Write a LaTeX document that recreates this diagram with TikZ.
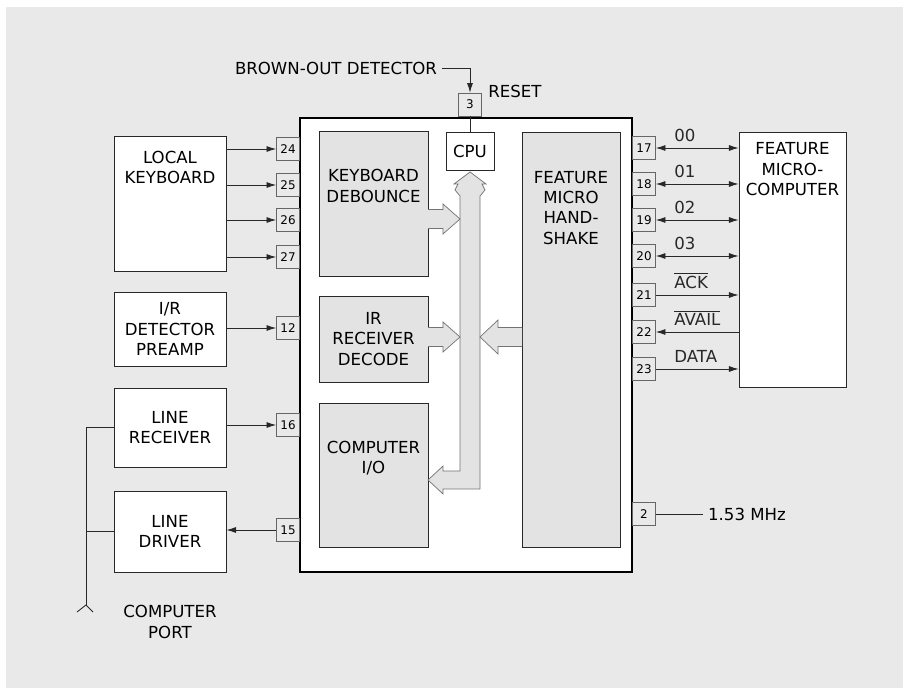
\documentclass[tikz,border=0pt]{standalone}
\usepackage{fontspec}
\setmainfont{DejaVu Sans}
\usetikzlibrary{arrows.meta,calc}

\definecolor{paper}{RGB}{233,233,233}
\definecolor{panel}{RGB}{227,227,227}
\definecolor{ink}{RGB}{40,40,40}

\begin{document}
\begin{tikzpicture}[
  font=\fontsize{11.8}{14.4}\selectfont,
  >={Latex[length=2.4mm,width=1.5mm]},
  box/.style={draw=ink,line width=.6pt,fill=white,align=center,inner sep=0pt},
  sub/.style={box,fill=panel},
  pin/.style={draw=black!60,line width=.5pt,fill=paper,minimum width=.575cm,minimum height=.575cm,inner sep=0pt,font=\fontsize{8.5}{10}\selectfont},
  wire/.style={ink,line width=.6pt},
  sig/.style={wire,->},
  tag/.style={anchor=south west,inner sep=.5pt,pos=.21,yshift=4pt},
  bus/.style={fill=panel,draw=black!55,line width=.5pt}
]
\useasboundingbox (0,0) rectangle (22.575,17.2);
\fill[white] (0,0) rectangle (22.575,17.2);
\fill[paper] (.15,0) rectangle (22.575,17.025);

% the controller chip and its inner blocks
\node[box,draw=black,line width=1.3pt,minimum width=8.3cm,minimum height=11.35cm] (chip) at (11.65,8.575) {};
\node[sub,minimum width=2.725cm,minimum height=3.625cm] (kd) at (9.3375,12.1125) {};
\node[align=center] (kdt) at ($(kd)+(0,.44)$) {KEYBOARD\\DEBOUNCE};
\node[sub,minimum width=2.725cm,minimum height=2.15cm] (ird) at (9.3375,8.725) {IR\\RECEIVER\\DECODE};
\node[sub,minimum width=2.725cm,minimum height=3.6cm] (cio) at (9.3375,5.325) {};
\node[align=center] (ciot) at ($(cio)+(0,.425)$) {COMPUTER\\I/O};
\node[sub,minimum width=2.45cm,minimum height=10.375cm] (fh) at (14.275,8.7125) {};
\node[align=center] (fht) at ($(fh)+(0,3.29)$) {FEATURE\\MICRO\\HAND-\\SHAKE};
\node[box,minimum width=1.2cm,minimum height=.95cm] (cpu) at (11.75,13.425) {CPU};

% internal bus and the wide arrows
\draw[bus] (11.75,12.9) -- (12.15,12.6) -- (12.05,12.6) -- (12.125,12.45) -- (12,12.3) -- (12,4.975)
  -- (11.075,4.975) -- (11.075,4.85) -- (10.7,5.2) -- (11.075,5.55) -- (11.075,5.425) -- (11.5,5.425)
  -- (11.5,12.3) -- (11.375,12.45) -- (11.45,12.6) -- (11.35,12.6) -- cycle;
\draw[bus] (10.7,11.9625) -- (11.075,11.9625) -- (11.075,12.1) -- (11.5,11.725) -- (11.075,11.35) -- (11.075,11.4875) -- (10.7,11.4875);
\draw[bus] (10.7,9.0125) -- (11.075,9.0125) -- (11.075,9.15) -- (11.5,8.775) -- (11.075,8.4) -- (11.075,8.5375) -- (10.7,8.5375);
\draw[bus] (13.05,9.0125) -- (12.45,9.0125) -- (12.45,9.2) -- (12,8.775) -- (12.45,8.35) -- (12.45,8.5375) -- (13.05,8.5375);

% outside blocks
\node[box,minimum width=2.8cm,minimum height=3.375cm] (lk) at (4.25,12.1125) {};
\node[align=center] (lkt) at ($(lk)+(0,.9)$) {LOCAL\\KEYBOARD};
\node[box,minimum width=2.8cm,minimum height=1.85cm] (irp) at (4.25,8.975) {I/R\\DETECTOR\\PREAMP};
\node[box,minimum width=2.8cm,minimum height=1.975cm] (lr) at (4.25,6.5125) {LINE\\RECEIVER};
\node[box,minimum width=2.8cm,minimum height=2.025cm] (ld) at (4.25,3.9125) {LINE\\DRIVER};
\node[box,minimum width=2.675cm,minimum height=6.375cm] (fm) at (19.8125,10.7125) {};
\node[align=center] (fmt) at ($(fm)+(0,2.26)$) {FEATURE\\MICRO-\\COMPUTER};

% pins
\foreach \n/\y in {24/13.475,25/12.575,26/11.7,27/10.775,12/9.0,16/6.575,15/3.95}
  \node[pin] (p\n) at (7.2,\y) {\n};
\foreach \n/\y in {17/13.5,18/12.6,19/11.7,20/10.8,21/9.825,22/8.9,23/7.975,2/4.35}
  \node[pin] (p\n) at (16.1,\y) {\n};
\node[pin] (p3) at (11.75,14.5875) {3};

% left side
\foreach \n in {24,25,26,27}
  \draw[sig] (lk.east|-p\n) -- (p\n);
\draw[sig] (irp.east|-p12) -- (p12);
\draw[sig] (lr.east|-p16) -- (p16);
\draw[sig] (p15) -- (ld.east|-p15);

\coordinate (port) at (2.15,2.075);
\draw[wire] (lr.west) -| (port);
\draw[wire] (ld.west) -- (ld.west-|port);
\draw[wire] (1.925,1.9) -- (port) -- (2.325,1.9);
\node[align=center] (cpt) at (4.25,1.65) {COMPUTER\\PORT};

% top
\node (bod) at (8.4,15.5) {BROWN-OUT DETECTOR};
\draw[sig] (bod) -| (p3);
\node (rst) at (12.875,14.925) {RESET};
\draw[wire] (p3) -- (cpu);

% right side
\draw[sig,<->] (p17) -- node[tag] {00} (fm.west|-p17);
\draw[sig,<->] (p18) -- node[tag] {01} (fm.west|-p18);
\draw[sig,<->] (p19) -- node[tag] {02} (fm.west|-p19);
\draw[sig,<->] (p20) -- node[tag] {03} (fm.west|-p20);
\draw[sig] (p21) -- node[tag] {$\overline{\mbox{ACK}}$} (fm.west|-p21);
\draw[sig,<-] (p22) -- node[tag] {$\overline{\mbox{AVAIL}}$} (fm.west|-p22);
\draw[sig] (p23) -- node[tag] {DATA} (fm.west|-p23);

\node (clk) at (18.675,4.35) {1.53 MHz};
\draw[wire] (p2) -- (clk);
\end{tikzpicture}
\end{document}
